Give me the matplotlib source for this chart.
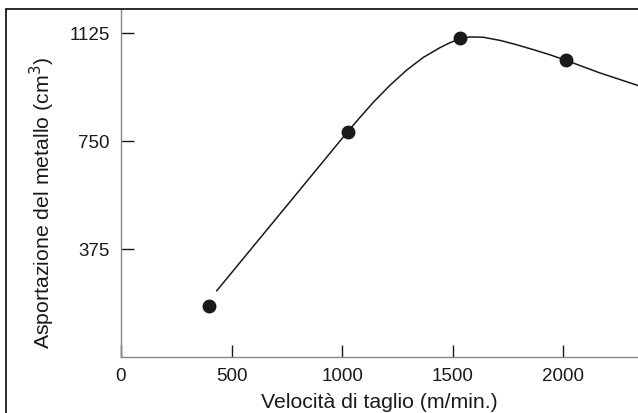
import matplotlib
matplotlib.use('Agg')
import matplotlib.pyplot as plt
from matplotlib.patches import Rectangle

plt.rcParams['font.family'] = ['Liberation Sans', 'DejaVu Sans']

# punti misurati
velocita = [397, 1025, 1531, 2011]
asportazione = [177, 782, 1106, 1030]

# curva di tendenza
curva_x = [433, 1025, 1081, 1141, 1216, 1292, 1367, 1443, 1488, 1530, 1578, 1638, 1714, 1789, 1864, 1940, 2008, 2166, 2340]
curva_y = [230, 782, 832, 884, 943, 996, 1040, 1074, 1091, 1104, 1111, 1110, 1099, 1084, 1067, 1049, 1031, 986, 942]

y_ticks = [375, 750, 1125]
x_ticks = [0, 500, 1000, 1500, 2000]

fig = plt.figure(figsize=(6.38, 4.14), dpi=100)
ax = fig.add_axes([121/638, 56/414, 1 - 121/638, 348/414])

ax.plot(curva_x, curva_y, color='#1a1a1a', linewidth=1.1, zorder=2)
ax.plot(velocita, asportazione, 'o', color='#1a1a1a', markersize=9, zorder=3)

ax.set_xlim(0, 2338)
ax.set_ylim(0, 1208)
ax.set_xticks(x_ticks)
ax.set_yticks(y_ticks)
ax.tick_params(axis='both', direction='in', length=9, width=1, color='#1a1a1a', labelsize=13.5, labelcolor='#1a1a1a')
ax.tick_params(axis='y', pad=8)
ax.tick_params(axis='x', pad=7)

for lato in ['top', 'right']:
    ax.spines[lato].set_visible(False)
for lato in ['left', 'bottom']:
    ax.spines[lato].set_color('#888888')
    ax.spines[lato].set_linewidth(1)

ax.set_xlabel('Velocità di taglio (m/min.)', fontsize=15.3, color='#1a1a1a')
ax.set_ylabel('Asportazione del metallo (cm$^3$)', fontsize=15.3, color='#1a1a1a')
ax.xaxis.set_label_coords(0.5, -0.1)
ax.yaxis.set_label_coords(-0.123, 0.445)

# cornice esterna
fig.patches.append(Rectangle((6/638, -0.01), 1.0, (404/414) + 0.01, transform=fig.transFigure,
                             fill=False, edgecolor='#1a1a1a', linewidth=1.3))

fig.savefig('out.png', dpi=100)
